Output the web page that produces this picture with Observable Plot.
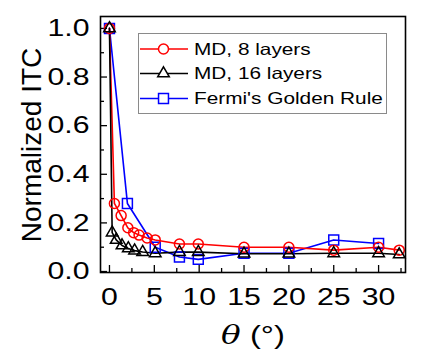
<!DOCTYPE html>
<html><head><meta charset="utf-8">
<script src="https://cdn.jsdelivr.net/npm/d3@7"></script>
<script src="https://cdn.jsdelivr.net/npm/@observablehq/plot@0.6"></script>
<style>
body{margin:0;background:#fff}
svg{font-family:"Liberation Sans",Arial,sans-serif}
</style>
</head><body><div id="chart"></div>
<script>
// ---- data ----
const theta8  = [0, 0.55, 1.3, 2.05, 2.7, 3.3, 4.2, 5.1, 7.8, 9.9, 15, 20, 25, 30, 32.3];
const itc8    = [1.0, 0.28, 0.23, 0.18, 0.16, 0.15, 0.138, 0.13, 0.113, 0.113, 0.10, 0.10, 0.088, 0.10, 0.088];
const theta16 = [0, 0.3, 0.75, 1.4, 2.1, 2.8, 3.7, 5.1, 7.8, 9.9, 15, 20, 25, 30, 32.3];
const itc16   = [1.0, 0.16, 0.13, 0.107, 0.095, 0.086, 0.08, 0.075, 0.08, 0.08, 0.073, 0.073, 0.075, 0.075, 0.07];
const thetaF  = [0, 2, 5.1, 7.8, 9.9, 15, 20, 25, 30];
const itcF    = [1.0, 0.28, 0.10, 0.06, 0.05, 0.075, 0.075, 0.13, 0.115];
const seriesNames = ["MD, 8 layers", "MD, 16 layers", "Fermi's Golden Rule"];
const seriesColors = ["#ff0000", "#000000", "#0000ff"];
const seriesSymbols = ["circle", "triangle", "square"];
const xMajor = [0, 5, 10, 15, 20, 25, 30];
const xMinor = [2.5, 7.5, 12.5, 17.5, 22.5, 27.5, 32.5];
const yMajor = [0, 0.2, 0.4, 0.6, 0.8, 1.0];
const yMinor = [0.1, 0.3, 0.5, 0.7, 0.9];
const yTitle = "Normalized ITC";

const toRows = (xs, ys, s) => xs.map((x, i) => ({theta: x, itc: ys[i], s}));
const d8 = toRows(theta8, itc8, 0);
const d16 = toRows(theta16, itc16, 1);
const dF = toRows(thetaF, itcF, 2);
const sets = [d8, d16, dF];
const radii = [5, 4.3, 5.6];

const marks = [
  Plot.axisX({ticks: xMajor, tickSize: 0, tickPadding: 15, fontSize: 24, tickFormat: d => String(d), label: null}),
  Plot.axisX({ticks: xMajor, tickSize: -7, text: null, label: null, strokeWidth: 1.3}),
  Plot.axisX({ticks: xMinor, tickSize: -4, text: null, label: null, strokeWidth: 1.3}),
  Plot.axisY({ticks: yMajor, tickSize: 0, tickPadding: 11, fontSize: 24, tickFormat: d3.format(".1f"), label: null}),
  Plot.axisY({ticks: yMajor, tickSize: -7, text: null, label: null, strokeWidth: 1.3}),
  Plot.axisY({ticks: yMinor, tickSize: -4, text: null, label: null, strokeWidth: 1.3})
];
[2, 0, 1].forEach(k => {
  marks.push(Plot.line(sets[k], {x: "theta", y: "itc", stroke: seriesColors[k], strokeWidth: 1.6}));
});
[2, 0, 1].forEach(k => {
  marks.push(Plot.dot(sets[k], {x: "theta", y: "itc", symbol: seriesSymbols[k], r: radii[k], stroke: seriesColors[k], fill: "none", strokeWidth: 1.5}));
});
marks.push(Plot.frame({stroke: "black", strokeWidth: 1.6}));

const svg = Plot.plot({
  width: 426, height: 358,
  marginLeft: 100, marginRight: 21, marginTop: 16, marginBottom: 86,
  style: {fontFamily: "Liberation Sans, Arial, sans-serif", background: "white", color: "black"},
  x: {domain: [-1, 33], label: null},
  y: {domain: [-0.004, 1.049], label: null},
  marks
});
document.getElementById("chart").appendChild(svg);

const s = d3.select(svg);
// axis titles
s.append("text").attr("transform", "translate(41,145) rotate(-90)")
  .attr("text-anchor", "middle").attr("font-size", 28).attr("fill", "black")
  .attr("class", "ytitle").text(yTitle);
const xt = s.append("text").attr("x", 253).attr("y", 344).attr("text-anchor", "middle")
  .attr("font-size", 26).attr("fill", "black");
xt.append("tspan").attr("font-style", "italic").attr("font-family", "DejaVu Serif, serif").text("θ");
xt.append("tspan").text(" (°)");

// legend
const lg = s.append("g").attr("text-anchor", "start");
lg.append("rect").attr("x", 138.5).attr("y", 33.5).attr("width", 248).attr("height", 80)
  .attr("fill", "white").attr("stroke", "#8a8a8a").attr("stroke-width", 1);
const rowsY = [49, 73.5, 98.5];
seriesNames.forEach((name, k) => {
  const y = rowsY[k];
  lg.append("line").attr("x1", 140).attr("x2", 188).attr("y1", y).attr("y2", y)
    .attr("stroke", seriesColors[k]).attr("stroke-width", 1.6);
  const sym = {circle: d3.symbolCircle, triangle: d3.symbolTriangle, square: d3.symbolSquare}[seriesSymbols[k]];
  lg.append("path").attr("d", d3.symbol(sym, Math.PI * radii[k] * radii[k])())
    .attr("transform", `translate(163.5,${y})`).attr("fill", "white")
    .attr("stroke", seriesColors[k]).attr("stroke-width", 1.5);
  lg.append("text").attr("x", 194).attr("y", y).attr("dy", "0.36em").attr("text-anchor", "start")
    .attr("font-size", 16.5).attr("fill", "black").text(name);
});

// the reference's lettering is horizontally stretched: widen all horizontal text
const stretch = 1.26;
s.selectAll("text").each(function() {
  if (this.getAttribute("class") === "ytitle") return;
  const L = this.getComputedTextLength();
  if (L > 0) { this.setAttribute("textLength", L * stretch); this.setAttribute("lengthAdjust", "spacingAndGlyphs"); }
});
</script>
</body></html>
